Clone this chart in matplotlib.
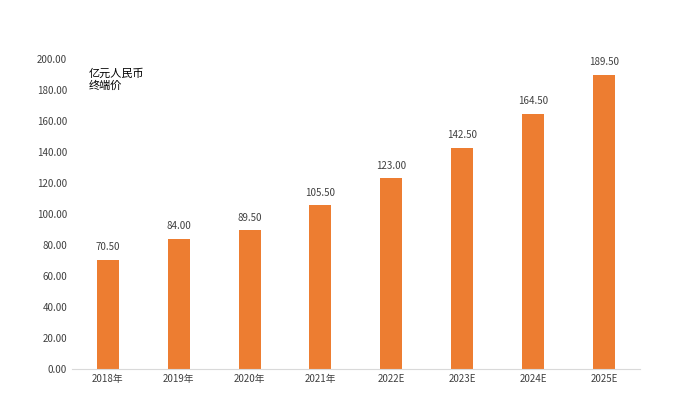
import matplotlib
matplotlib.use("Agg")
import matplotlib.pyplot as plt
from matplotlib import font_manager as fm

categories = ["2018年", "2019年", "2020年", "2021年", "2022E", "2023E", "2024E", "2025E"]
values = [70.50, 84.00, 89.50, 105.50, 123.00, 142.50, 164.50, 189.50]
unit_label = "亿元人民币\n终端价"

cands = [f for f in fm.findSystemFonts() if "cjk" in f.lower() and "sans" in f.lower()]
cands.sort(key=lambda f: (("Regular" not in f), ("SC" not in f), len(f)))
name = "Noto Sans CJK SC"
if cands:
    fm.fontManager.addfont(cands[0])
    name = fm.FontProperties(fname=cands[0]).get_name()
plt.rcParams["font.family"] = [name, "DejaVu Sans"]

fig = plt.figure(figsize=(6.8, 4.18), dpi=100)
ax = fig.add_axes([0.106, 0.117, 0.835, 0.742])
x = range(len(categories))
ax.bar(x, values, width=0.31, color="#ED7D31")
for i, v in zip(x, values):
    ax.text(i, v + 5, f"{v:.2f}", ha="center", va="bottom", fontsize=7, color="#404040")
ax.set_xlim(-0.5, len(categories) - 0.5)
ax.set_ylim(0, 200)
ax.set_yticks(range(0, 201, 20))
ax.set_yticklabels([f"{t:.2f}" for t in range(0, 201, 20)], fontsize=7, color="#404040")
ax.set_xticks(list(x))
ax.set_xticklabels(categories, fontsize=7, color="#404040")
for s in ["top", "right", "left"]:
    ax.spines[s].set_visible(False)
ax.spines["bottom"].set_color("#D9D9D9")
ax.tick_params(axis="both", length=0)
ax.text(0.03, 0.97, unit_label, transform=ax.transAxes, ha="left", va="top", fontsize=8, color="black")
fig.savefig("out.png", dpi=100)
